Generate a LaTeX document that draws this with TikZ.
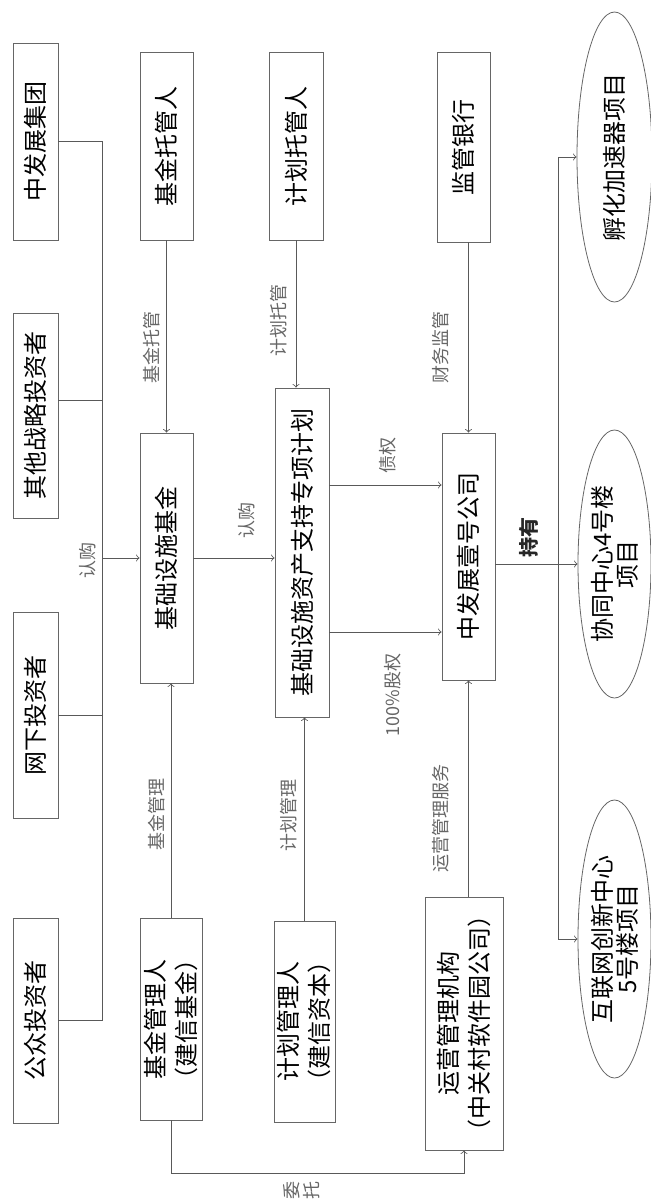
\documentclass[tikz,border=0pt]{standalone}
\usepackage{fontspec}
\setmainfont{Noto Sans CJK SC}
\usetikzlibrary{shapes.geometric, arrows, positioning}

\begin{document}
\begin{tikzpicture}[x=0.5pt, y=-0.5pt]
    % Styles
    \tikzstyle{block} = [rectangle, draw=black!60, rotate=90, align=center, inner sep=1pt, font=\fontsize{12}{15.5}\selectfont]
    \tikzstyle{cloud} = [ellipse, draw=black!60, rotate=90, align=center, inner sep=0pt, font=\fontsize{12}{12.5}\selectfont]
    \tikzstyle{line} = [draw, ->, black!65]
    \tikzstyle{tag} = [rotate=90, inner sep=0pt, text=black!60, font=\fontsize{9}{10}\selectfont]

    \useasboundingbox (0,0) rectangle (650,1199);

    % Investors
    \node [block, minimum width=98.5pt, minimum height=22.5pt] (group) at (35.5,141.5) {中发展集团};
    \node [block, minimum width=102.5pt, minimum height=22.5pt] (strat) at (35.5,415.5) {其他战略投资者};
    \node [block, minimum width=103pt, minimum height=22.5pt] (offline) at (35.5,715) {网下投资者};
    \node [block, minimum width=102.5pt, minimum height=22.5pt] (public) at (35.5,1020.5) {公众投资者};

    % Fund column
    \node [block, minimum width=94pt, minimum height=26.5pt] (fcust) at (166.5,146) {基金托管人};
    \node [block, minimum width=125pt, minimum height=26.5pt] (fund) at (166.5,558) {基础设施基金};
    \node [block, minimum width=101pt, minimum height=31pt] (fmgr) at (171,1019) {基金管理人\\（建信基金）};

    % Plan column
    \node [block, minimum width=94pt, minimum height=27pt] (pcust) at (296,146) {计划托管人};
    \node [block, minimum width=164.5pt, minimum height=27pt] (plan) at (302,552.5) {基础设施资产支持专项计划};
    \node [block, minimum width=100.5pt, minimum height=30.5pt] (pmgr) at (304.5,1021.5) {计划管理人\\（建信资本）};

    % Company column
    \node [block, minimum width=95pt, minimum height=26.5pt] (bank) at (463.5,147) {监管银行};
    \node [block, minimum width=123.5pt, minimum height=26.5pt] (spv) at (468.5,556.5) {中发展壹号公司};
    \node [block, minimum width=126.5pt, minimum height=39pt] (ops) at (464,1023.5) {运营管理机构\\（中关村软件园公司）};

    % Projects
    \node [cloud, minimum width=145pt, minimum height=37.5pt] (incub) at (614.5,157) {孵化加速器项目};
    \node [cloud, minimum width=134pt, minimum height=36.5pt] (coop) at (614.5,564) {协同中心4号楼\\项目};
    \node [cloud, minimum width=139pt, minimum height=36.5pt] (inet) at (614.5,939) {互联网创新中心\\5号楼项目};

    % Paths
    \coordinate (s2) at (102,400);
    \coordinate (debt) at (400,485);
    \coordinate (equity) at (400,632);
    \coordinate (hub) at (558,564);
    \draw [black!65] (group.south) -| (public.south -| s2) -- (public.south);
    \draw [black!65] (s2 -| strat.south) -- (s2);
    \draw [black!65] (offline.south) -- (offline.south -| s2);
    \path [line] (s2 |- fund.north) -- (fund.north);
    \path [line] (fcust.west) -- (fund.east);
    \path [line] (fmgr.east) -- (fmgr.east |- fund.west);
    \path [line] (fund.south) -- (fund.south -| plan.north);
    \path [line] (pcust.west) -- (pcust.west |- plan.east);
    \path [line] (pmgr.east) -- (pmgr.east |- plan.west);
    \path [line] (plan.south |- debt) -- (spv.north |- debt);
    \path [line] (plan.south |- equity) -- (spv.north |- equity);
    \path [line] (bank.west -| spv.east) -- (spv.east);
    \path [line] (spv.west |- ops.east) -- (spv.west);
    \path [line] (spv.south |- coop.north) -- (coop.north);
    \path [line] (hub) |- (incub.north);
    \path [line] (hub) |- (inet.north);
    \path [line] (fmgr.west) -- ++(0,53) -| (ops.west);

    % Labels
    \node [tag] (lbuy1) at (88,560) {认购};
    \node [tag] (lfcust) at (152,347) {基金托管};
    \node [tag] (lfmgr) at (157,814) {基金管理};
    \node [tag] (lbuy2) at (247,520) {认购};
    \node [tag] (lpcust) at (279,320) {计划托管};
    \node [tag] (lpmgr) at (289,815) {计划管理};
    \node [tag] (ldebt) at (388,455) {债权};
    \node [tag] (lequity) at (393,695) {100\%股权};
    \node [tag] (lbank) at (441,347) {财务监管};
    \node [tag] (lops) at (441,818) {运营管理服务};
    \node [tag, text=black!85, font=\fontsize{10}{11}\selectfont\bfseries] (lhold) at (529,537) {持有};
    \node [tag, align=center] (ltrust) at (302,1190) {委\\托};
\end{tikzpicture}
\end{document}
